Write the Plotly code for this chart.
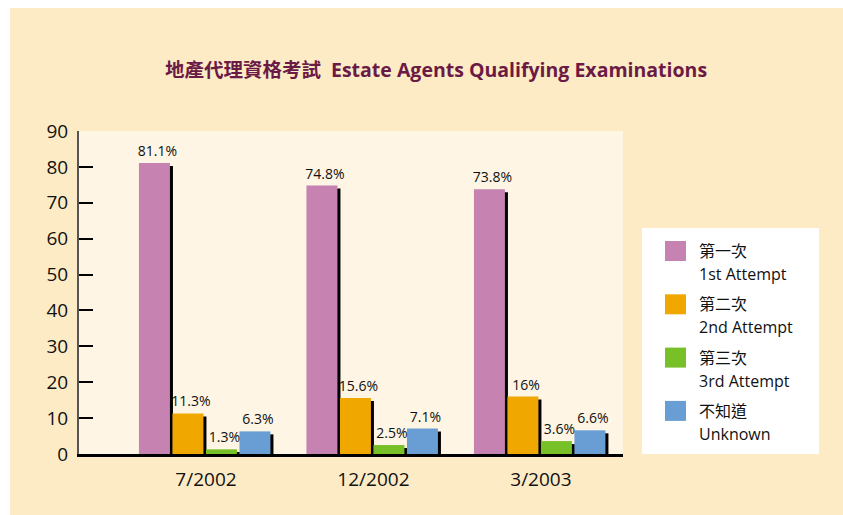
import plotly.graph_objects as go

# ---- data ----
periods = ["7/2002", "12/2002", "3/2003"]
series_zh = ["第一次", "第二次", "第三次", "不知道"]
series_en = ["1st Attempt", "2nd Attempt", "3rd Attempt", "Unknown"]
first_attempt = [81.1, 74.8, 73.8]
second_attempt = [11.3, 15.6, 16.0]
third_attempt = [1.3, 2.5, 3.6]
unknown = [6.3, 7.1, 6.6]
y_ticks = [0, 10, 20, 30, 40, 50, 60, 70, 80, 90]

series_values = [first_attempt, second_attempt, third_attempt, unknown]
colors = ["#C682B0", "#F0A800", "#78C028", "#689ED4"]

W, H = 843, 515
L, R, T, B = 79, 623, 131, 454  # plot area in px


def px_x(px):
    return (px - L) / (R - L)


def px_y(py):
    return (B - py) / (B - T)


xpos = list(range(len(periods)))
offsets = [-0.4, -0.2, 0.0, 0.2]
bw = 0.185
shadow_dx = 0.018
shadow_dy = 3 * 90 / (B - T)

label_font = "Open Sans, sans-serif"
main_font = "Open Sans, Noto Sans CJK TC, sans-serif"

fig = go.Figure()

# shadows
for vals, off in zip(series_values, offsets):
    fig.add_trace(go.Bar(
        x=xpos, y=[max(v - shadow_dy, 0) for v in vals],
        offset=off + shadow_dx, width=bw,
        marker=dict(color="black", line=dict(width=0)),
        showlegend=False, hoverinfo="skip",
    ))

# bars
for vals, off, col, zh, en in zip(series_values, offsets, colors, series_zh, series_en):
    fig.add_trace(go.Bar(
        x=xpos, y=vals, offset=off, width=bw,
        marker=dict(color=col, line=dict(width=0)),
        name=f"{zh} {en}",
        showlegend=False,
    ))

# value labels (centred over bar + shadow), drawn on top
for vals, off in zip(series_values, offsets):
    fig.add_trace(go.Bar(
        x=xpos, y=vals, offset=off + shadow_dx, width=bw,
        marker=dict(color="rgba(0,0,0,0)", line=dict(width=0)),
        text=[f"{v:g}%" for v in vals],
        textposition="outside",
        constraintext="none",
        textfont=dict(family=label_font, size=14, color="#111"),
        cliponaxis=False,
        showlegend=False, hoverinfo="skip",
    ))

shapes = [
    # white page margins
    dict(type="rect", xref="paper", yref="paper", x0=px_x(0), x1=px_x(10),
         y0=px_y(H), y1=px_y(0), fillcolor="white", line=dict(width=0), layer="below"),
    dict(type="rect", xref="paper", yref="paper", x0=px_x(0), x1=px_x(W),
         y0=px_y(8), y1=px_y(0), fillcolor="white", line=dict(width=0), layer="below"),
    # legend box
    dict(type="rect", xref="paper", yref="paper", x0=px_x(642), x1=px_x(819),
         y0=px_y(454), y1=px_y(228), fillcolor="white", line=dict(width=0), layer="below"),
]
annotations = []
pitch = 53.3
for i, (col, zh, en) in enumerate(zip(colors, series_zh, series_en)):
    top = 241 + i * pitch
    shapes.append(dict(type="rect", xref="paper", yref="paper",
                       x0=px_x(665), x1=px_x(686), y0=px_y(top + 20), y1=px_y(top),
                       fillcolor=col, line=dict(width=0)))
    annotations.append(dict(xref="paper", yref="paper", x=px_x(697), y=px_y(top + 10),
                            text=zh, showarrow=False, xanchor="left", yanchor="middle",
                            font=dict(family=main_font, size=16, color="#111")))
    annotations.append(dict(xref="paper", yref="paper", x=px_x(697), y=px_y(top + 33),
                            text=en, showarrow=False, xanchor="left", yanchor="middle",
                            font=dict(family=main_font, size=16, color="#111")))

fig.update_layout(
    width=W, height=H,
    margin=dict(l=L, r=W - R, t=T, b=H - B, pad=0),
    paper_bgcolor="#FDEBC6",
    plot_bgcolor="#FEF5E4",
    barmode="overlay",
    showlegend=False,
    title=dict(
        text="地產代理資格考試&nbsp;&nbsp;Estate Agents Qualifying Examinations",
        x=436 / W, xanchor="center", xref="container",
        y=1 - 70 / H, yanchor="middle", yref="container",
        font=dict(family=main_font, size=19.5, color="#6B1A45", weight="bold"),
    ),
    xaxis=dict(
        range=[-0.758, 2.490], tickvals=xpos, ticktext=periods,
        showgrid=False, zeroline=False, ticks="",
        showline=True, linecolor="black", linewidth=3,
        tickfont=dict(family=main_font, size=19, color="#111"),
        ticklabelstandoff=6,
    ),
    yaxis=dict(
        range=[0, 90], tickvals=y_ticks,
        showgrid=False, zeroline=False,
        ticks="inside", ticklen=14, tickwidth=2, tickcolor="black",
        showline=True, linecolor="#555", linewidth=2,
        tickfont=dict(family=main_font, size=19, color="#111"),
        ticklabelstandoff=5,
    ),
    shapes=shapes,
    annotations=annotations,
)

fig.write_html("out.html", config={"displayModeBar": False},
               post_script="document.body.style.margin='0';")
